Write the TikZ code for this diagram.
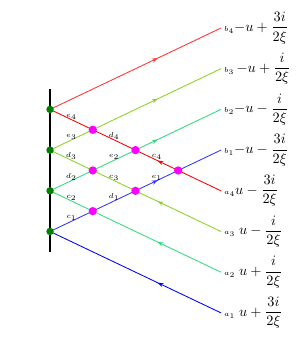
\documentclass[tikz,border=0pt]{standalone}
\usepackage{amsmath,amssymb}
\usepackage{tikz}
\usetikzlibrary{arrows.meta,decorations.markings}
\usepackage{xcolor}
\definecolor{lgreen}{rgb}{0.55,0.82,0.15}
\definecolor{sgreen}{rgb}{0.2,0.85,0.5}
\definecolor{pmag}{rgb}{1,0,1}
\definecolor{wgreen}{rgb}{0,0.5,0}
\newcommand{\wtag}[1]{{\fontsize{3.5}{4}\selectfont$#1$}}
\begin{document}
\begin{tikzpicture}[line cap=round,
  lbl/.style={above=-1pt,inner sep=1pt,font=\tiny},
  tiplbl/.style={right=0pt,inner sep=2pt},
  fwd/.style={postaction={decorate},decoration={markings,mark=at position 0.63 with {\arrow{Stealth[length=4pt,width=3pt]}}}},
  bwd/.style={postaction={decorate},decoration={markings,mark=at position 0.63 with {\arrowreversed{Stealth[length=4pt,width=3pt]}}}},
  wire/.style={line width=0.6pt}]
\useasboundingbox (-1.23,-2.84) rectangle (6.09,5.69);
% dots on the wall and crossings
\coordinate (g1) at (0,0);
\coordinate (g2) at (0,1);
\coordinate (g3) at (0,2);
\coordinate (g4) at (0,3);
\coordinate (p12) at (1.05,0.5);
\coordinate (p23) at (1.05,1.5);
\coordinate (p34) at (1.05,2.5);
\coordinate (p13) at (2.1,1);
\coordinate (p24) at (2.1,2);
\coordinate (p14) at (3.15,1.5);
% outer ends
\coordinate (a1) at (4.2,-2);
\coordinate (a2) at (4.2,-1);
\coordinate (a3) at (4.2,0);
\coordinate (a4) at (4.2,1);
\coordinate (b1) at (4.2,2);
\coordinate (b2) at (4.2,3);
\coordinate (b3) at (4.2,4);
\coordinate (b4) at (4.2,5);
\draw[line width=1.8pt,line cap=butt] (0,-0.5) -- (0,3.5);
% red
\draw[wire,red,bwd] (g4) -- node[lbl,text=black]{$e_4$} (p34) -- node[lbl,text=black]{$d_4$} (p24) -- node[lbl,text=black]{$c_4$} (p14) -- (a4);
\draw[wire,red!80,fwd] (g4) -- (b4);
% light green
\draw[wire,lgreen,bwd] (g3) -- node[lbl,text=black]{$d_3$} (p23) -- node[lbl,text=black]{$c_3$} (p13) -- (a3);
\draw[wire,lgreen,fwd] (g3) -- node[lbl,text=black]{$e_3$} (p34) -- (b3);
% sea green
\draw[wire,sgreen,bwd] (g2) -- node[lbl,text=black]{$c_2$} (p12) -- (a2);
\draw[wire,sgreen,fwd] (g2) -- node[lbl,text=black]{$d_2$} (p23) -- node[lbl,text=black]{$e_2$} (p24) -- (b2);
% blue
\draw[wire,blue,bwd] (g1) -- (a1);
\draw[wire,blue!80,fwd] (g1) -- node[lbl,text=black]{$c_1$} (p12) -- node[lbl,text=black]{$d_1$} (p13) -- node[lbl,text=black]{$e_1$} (p14) -- (b1);
\foreach \g in {g1,g2,g3,g4} \fill[wgreen] (\g) circle (2.6pt);
\foreach \p in {p12,p23,p34,p13,p24,p14} \fill[pmag] (\p) circle (2.9pt);
% end labels
\node[tiplbl] at (b4) {\wtag{b_4}$-u+\dfrac{3i}{2\xi}$};
\node[tiplbl] at (b3) {\wtag{b_3}$\,-u+\dfrac{i}{2\xi}$};
\node[tiplbl] at (b2) {\wtag{b_2}$-u-\dfrac{i}{2\xi}$};
\node[tiplbl] at (b1) {\wtag{b_1}$-u-\dfrac{3i}{2\xi}$};
\node[tiplbl] at (a4) {\wtag{a_4}$u-\dfrac{3i}{2\xi}$};
\node[tiplbl] at (a3) {\wtag{a_3}$\;u-\dfrac{i}{2\xi}$};
\node[tiplbl] at (a2) {\wtag{a_2}$\;u+\dfrac{i}{2\xi}$};
\node[tiplbl] at (a1) {\wtag{a_1}$\;u+\dfrac{3i}{2\xi}$};
\end{tikzpicture}
\end{document}
